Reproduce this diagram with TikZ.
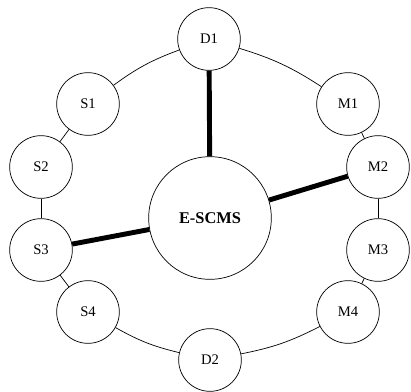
\documentclass[tikz,border=0pt]{standalone}
\usepackage{fontspec}
\setmainfont{Liberation Serif}
\begin{document}
\begin{tikzpicture}[x=0.03cm,y=-0.03cm,
  sat/.style={circle,draw,line width=0.6pt,minimum size=1.88cm,inner sep=0pt,font=\fontsize{12.5}{14}\selectfont},
  hub/.style={circle,draw,line width=0.6pt,minimum size=3.68cm,inner sep=0pt,font=\bfseries\fontsize{14}{16}\selectfont},
  thin link/.style={line width=0.6pt},
  thick link/.style={line width=4.2pt}]
\useasboundingbox (0,0) rectangle (411,392);
\node[sat] (D1) at (209,39) {D1};
\node[sat] (S1) at (88,104) {S1};
\node[sat] (M1) at (348,104) {M1};
\node[sat] (S2) at (41,167) {S2};
\node[sat] (M2) at (378,167) {M2};
\node[sat] (S3) at (41,250) {S3};
\node[sat] (M3) at (378,250) {M3};
\node[sat] (S4) at (88,312) {S4};
\node[sat] (M4) at (348,312) {M4};
\node[sat] (D2) at (210,360) {D2};
\node[hub] (E) at (210,218) {E-SCMS};
\draw[thin link] (D1) to[bend right=8] (S1);
\draw[thin link] (D1) to[bend left=8] (M1);
\draw[thin link] (S1) -- (S2);
\draw[thin link] (M1) -- (M2);
\draw[thin link] (S2) -- (S3);
\draw[thin link] (M2) -- (M3);
\draw[thin link] (S3) -- (S4);
\draw[thin link] (M3) -- (M4);
\draw[thin link] (S4) to[bend right=8] (D2);
\draw[thin link] (D2) to[bend right=8] (M4);
\draw[thick link] (D1) -- (E);
\draw[thick link] (E) -- (M2);
\draw[thick link] (E) -- (S3);
\end{tikzpicture}
\end{document}
